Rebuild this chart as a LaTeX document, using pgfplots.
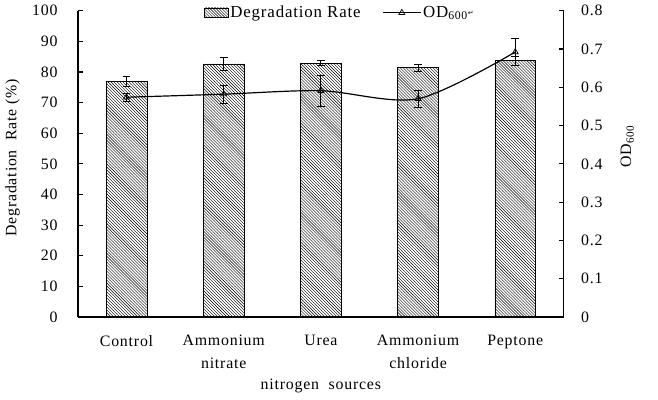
\documentclass[border=0pt]{standalone}
\usepackage{pgfplots}
\pgfplotsset{compat=1.18}
\usepackage{fontspec}
\setmainfont{Liberation Serif}[LetterSpace=5]
\newfontfamily\dejavu{DejaVu Sans}
\usetikzlibrary{patterns}
\begin{document}
\fontsize{16}{18}\selectfont
\begin{tikzpicture}
\pgfplotsset{
  common/.style={
    scale only axis, width=490pt, height=309pt,
    xmin=0.5, xmax=5.5,
    axis line style={-, line width=1.2pt, black},
    tick style={line width=1.2pt, black},
    tick align=inside,
    major tick length=5pt,
    /pgf/number format/assume math mode=true,
    ticklabel style={font=\fontsize{16}{23}\selectfont},
  }
}
\begin{axis}[common,
  ymin=0, ymax=100,
  axis x line*=bottom, axis y line*=left,
  ytick={0,10,...,100},
  xtick={1,2,3,4,5},
  xticklabels={Control,{Ammonium\\nitrate},Urea,{Ammonium\\chloride},Peptone},
  xticklabel style={align=center, yshift=-13pt},
  x tick style={draw=none},
  minor xtick={1.5,2.5,3.5,4.5},
  minor x tick style={line width=1.2pt, black},
  minor tick length=4pt,
  yticklabel style={xshift=-15pt},
  ylabel={Degradation\ \ Rate (\%)},
  ylabel style={font=\fontsize{16}{18}\selectfont, at={(-66pt,0.52)}, anchor=center},
  xlabel={nitrogen\ \ sources},
  xlabel style={font=\fontsize{16}{18}\selectfont, at={(0.5,-69pt)}, anchor=center},
  clip=false,
]
\addplot[ybar, bar width=0.42, draw=black, line width=0.6pt, pattern=north west lines,
  error bars/.cd, y dir=both, y explicit,
  error bar style={line width=0.9pt, black},
  error mark options={rotate=90, mark size=4pt, line width=0.9pt, black}]
coordinates {
  (1,76.8) +- (0,1.6)
  (2,82.6) +- (0,2.2)
  (3,82.9) +- (0,0.9)
  (4,81.4) +- (0,1.1)
  (5,83.7) +- (0,1.5)
};
\path (rel axis cs:0,0) ++(-73pt,-83pt) coordinate (bbA);
\path (rel axis cs:1,1) ++(95pt,10pt) coordinate (bbB);
\end{axis}
\begin{axis}[common,
  ymin=0, ymax=0.8,
  axis x line=none, axis y line*=right,
  ytick={0,0.1,0.2,0.3,0.4,0.5,0.6,0.7,0.8},
  yticklabels={0,0.1,0.2,0.3,0.4,0.5,0.6,0.7,0.8},
  yticklabel style={anchor=west, xshift=12pt},
  ylabel={OD\textsubscript{600}},
  ylabel style={font=\fontsize{16}{18}\selectfont, at={(1,0.557)}, yshift=-64pt, anchor=center},
  legend style={draw=none, fill=none, at={(rel axis cs:0.259,0.993)}, anchor=west,
    font=\fontsize{17}{20}\selectfont, legend columns=2,
    /tikz/every even column/.append style={column sep=20pt},
    legend cell align=left, inner sep=0pt},
  clip=false,
]
\addlegendimage{legend image code/.code={\draw[draw=black, line width=0.6pt, pattern=north west lines] (0pt,-5pt) rectangle (24pt,5pt);}}
\addlegendentry{Degradation Rate}
\addplot[black, line width=1.2pt, smooth, mark=triangle, mark size=3.5pt,
  mark options={solid, fill=white, line width=0.7pt},
  legend image code/.code={\draw[black, line width=1.2pt] (0pt,0pt) -- (38pt,0pt);
    \draw[black, line width=0.7pt, fill=white] plot[mark=triangle, mark size=3.5pt] coordinates {(19pt,0pt)};},
  error bars/.cd, y dir=both, y explicit,
  error bar style={line width=0.9pt, black},
  error mark options={rotate=90, mark size=4pt, line width=0.9pt, black}]
coordinates {
  (1,0.574) +- (0,0.011)
  (2,0.582) +- (0,0.023)
  (3,0.591) +- (0,0.040)
  (4,0.570) +- (0,0.023)
  (5,0.692) +- (0,0.035)
};
\addlegendentry{OD\textsubscript{600}{\dejavu\fontsize{7}{8}\selectfont\raisebox{2pt}{↵}}}
\end{axis}
\path[use as bounding box] (bbA) rectangle (bbB);
\end{tikzpicture}
\end{document}
